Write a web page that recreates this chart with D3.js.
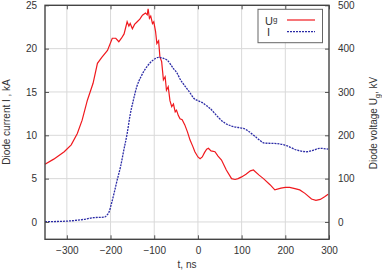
<!DOCTYPE html>
<html><head><meta charset="utf-8">
<script src="https://cdn.jsdelivr.net/npm/d3@7"></script>
<style>body{margin:0;background:#fff}svg{display:block}text{font-family:"Liberation Sans",Arial,sans-serif;fill:#333}</style>
</head><body><svg id="c" width="382" height="272"></svg>
<script>
// Time axis (ns)
const xTicks = [-300,-200,-100,0,100,200,300];
const yLeftTicks = [0,5,10,15,20,25];
const yRightTicks = [0,100,200,300,400,500];
// Diode voltage U_g (kV)
const ugT = [-350,-330,-306,-290,-276,-265,-253,-240,-230,-220,-207,-196,-188,-181,-175,-169,-162,-158,-155,-150,-145,-139,-133,-127,-120,-116,-114,-111,-108,-104,-101,-97,-94,-90,-87,-83,-79,-75,-72,-68,-64,-60,-56,-52,-49,-45,-41,-36,-30,-24,-18,-12,-7,0,5,10,15,20,24,30,39,46,54,65,77,85,92,100,110,120,127,140,150,165,176,190,200,210,222,233,245,260,270,280,290,298];
const ugV = [133,145,162,178,204,235,281,320,366,380,396,424,424,416,424,434,462,452,458,446,456,462,468,477,482,478,492,470,475,458,462,440,412,418,381,370,328,335,304,312,280,266,272,254,258,246,238,236,224,208,189,175,162,150,146,150,160,168,170,164,162,152,143,120,100,98,100,104,110,118,120,108,100,86,74,78,80,80,77,74,66,53,50,52,58,64];
// Diode current I (kA)
const iT = [-350,-300,-261,-238,-215,-208,-203,-198,-192,-185,-177,-170,-162,-155,-148,-140,-130,-117,-102,-90,-80,-71,-56,-48,-41,-30,-18,-10,0,9,20,28,39,50,62,75,92,104,115,125,135,153,180,203,226,249,265,279,298];
const iV = [0.03,0.1,0.3,0.5,0.55,0.8,1.2,2.1,3.3,4.8,6.4,8.2,10.2,12.4,14.0,15.6,16.8,17.9,18.7,19.0,18.9,18.7,17.7,17.2,16.5,15.7,14.9,14.3,14.0,13.8,13.4,13.1,12.5,11.9,11.4,11.1,10.9,10.8,10.5,10.1,9.7,9.1,9.05,8.8,8.3,8.1,8.3,8.5,8.4];

const svg = d3.select("#c");
const L=45,R=329,T=5.3,B=239.3;
const x = d3.scaleLinear().domain([-350,300]).range([L,R]);
const yL = d3.scaleLinear().domain([-2,25]).range([B,T]);
const yR = d3.scaleLinear().domain([-40,500]).range([B,T]);

// grid
const g = svg.append("g");
g.selectAll(".gx").data(xTicks.filter(d=>d<300)).enter().append("line")
 .attr("x1",d=>x(d)).attr("x2",d=>x(d)).attr("y1",T).attr("y2",B)
 .attr("stroke","#d9d9d9").attr("stroke-width",1);
g.selectAll(".gy").data(yLeftTicks.filter(d=>d<25)).enter().append("line")
 .attr("x1",L).attr("x2",R).attr("y1",d=>yL(d)).attr("y2",d=>yL(d))
 .attr("stroke","#d9d9d9").attr("stroke-width",1);

// curves
const lineU = d3.line().x((d,i)=>x(ugT[i])).y(d=>yR(d));
svg.append("path").attr("d",lineU(ugV)).attr("fill","none").attr("stroke","#f0191e").attr("stroke-width",1.2);
const lineI = d3.line().curve(d3.curveMonotoneX).x((d,i)=>x(iT[i])).y(d=>yL(d));
svg.append("path").attr("d",lineI(iV)).attr("fill","none").attr("stroke","#2b2ba6").attr("stroke-width",1.3).attr("stroke-dasharray","2,1");

// axes (ticks inward)
const ax = svg.append("g").attr("transform",`translate(0,${B})`).call(d3.axisBottom(x).tickValues(xTicks).tickSize(-4).tickPadding(8));
const axT = svg.append("g").attr("transform",`translate(0,${T})`).call(d3.axisTop(x).tickValues(xTicks).tickSize(-4).tickFormat(""));
const ayl = svg.append("g").attr("transform",`translate(${L},0)`).call(d3.axisLeft(yL).tickValues(yLeftTicks).tickSize(-4).tickPadding(8));
const ayr = svg.append("g").attr("transform",`translate(${R},0)`).call(d3.axisRight(yR).tickValues(yRightTicks).tickSize(-4).tickPadding(9));
[ax,axT,ayl,ayr].forEach(a=>{
  a.select(".domain").remove();
  a.selectAll(".tick line").attr("stroke","#555");
  a.selectAll(".tick text").style("font-size","10px").attr("fill","#333").style("font-family","Liberation Sans, Arial, sans-serif");
});
svg.append("rect").attr("x",L).attr("y",T).attr("width",R-L).attr("height",B-T)
 .attr("fill","none").attr("stroke","#444").attr("stroke-width",1.4);

// axis labels
svg.append("text").attr("x",(L+R)/2).attr("y",268).attr("text-anchor","middle").style("font-size","10px").text("t, ns");
svg.append("text").attr("transform","translate(10,122) rotate(-90)").attr("text-anchor","middle").style("font-size","10px").text("Diode current I , kA");
const rl = svg.append("text").attr("transform","translate(377,123) rotate(-90)").attr("text-anchor","middle").style("font-size","10px");
rl.append("tspan").text("Diode voltage U");
rl.append("tspan").attr("dy",3).style("font-size","7.5px").text("g");
rl.append("tspan").attr("dy",-3).text(", kV");

// legend
svg.append("rect").attr("x",258).attr("y",9.3).attr("width",64.5).attr("height",33.4).attr("fill","#fff").attr("stroke","#666").attr("stroke-width",1);
const lt = svg.append("text").attr("x",265).attr("y",25).style("font-size","11px");
lt.append("tspan").text("U");
lt.append("tspan").attr("dy",-3).style("font-size","8px").text("g");
svg.append("text").attr("x",267).attr("y",36).style("font-size","11px").text("I");
svg.append("line").attr("x1",287).attr("x2",315).attr("y1",20).attr("y2",20).attr("stroke","#f0191e").attr("stroke-width",1.2);
svg.append("line").attr("x1",287).attr("x2",315).attr("y1",31.7).attr("y2",31.7).attr("stroke","#2b2ba6").attr("stroke-width",1.3).attr("stroke-dasharray","2,1");
</script></body></html>
